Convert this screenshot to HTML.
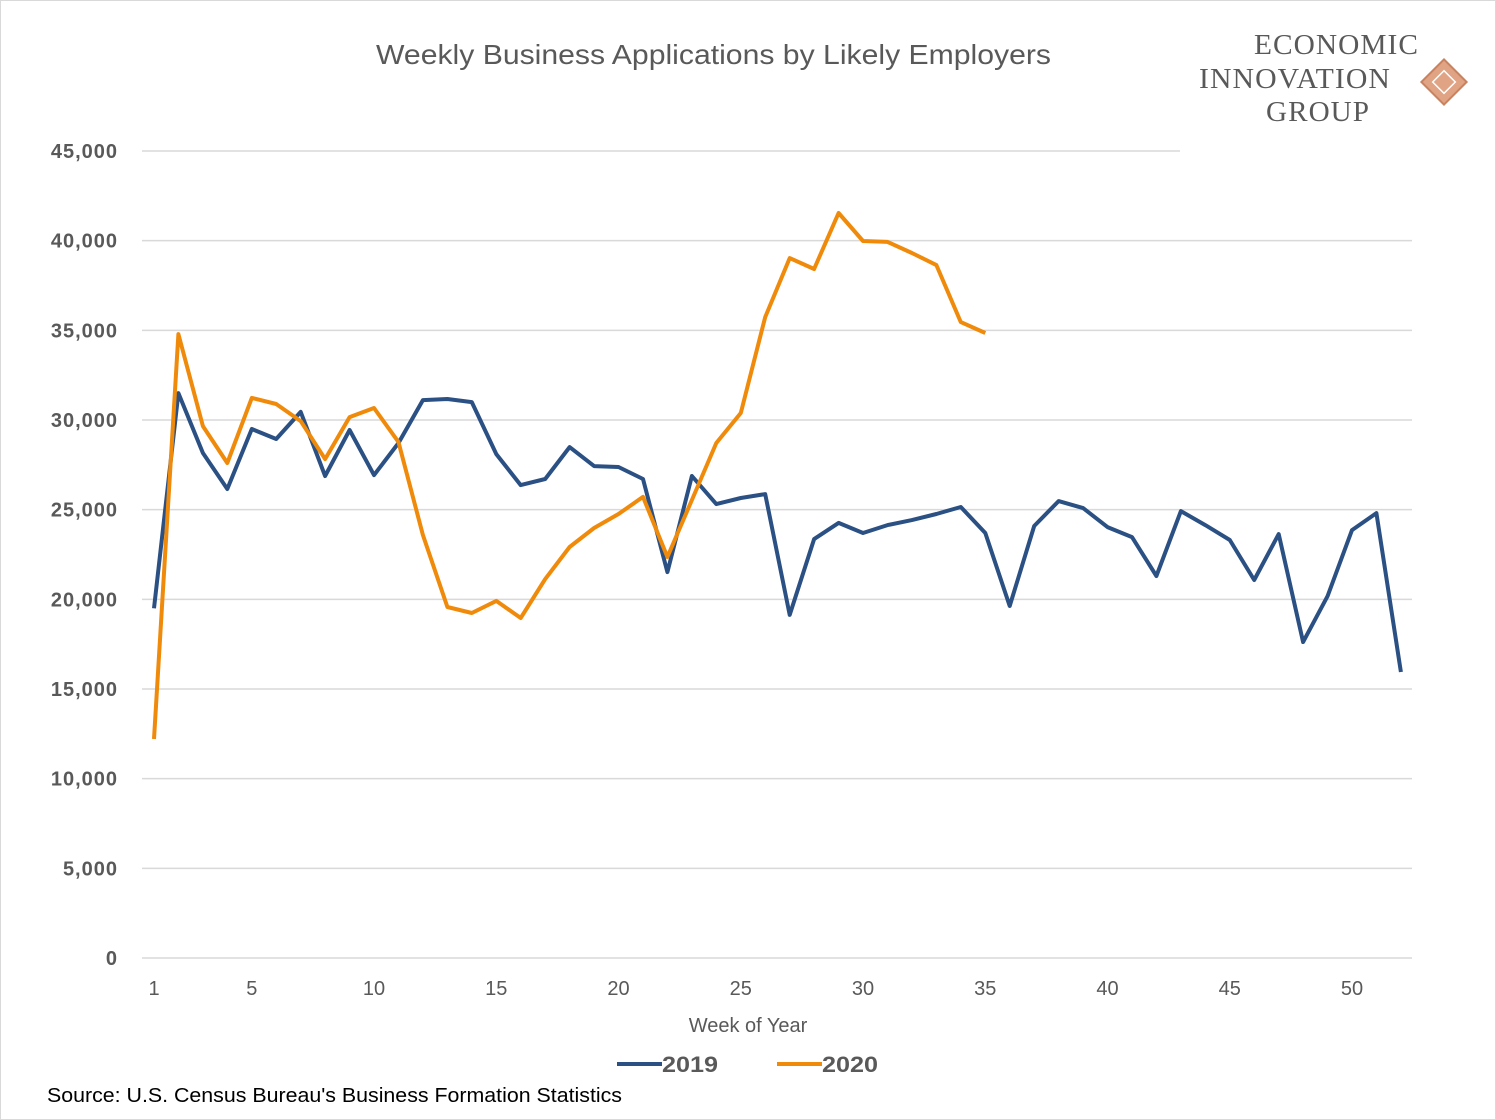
<!DOCTYPE html>
<html><head><meta charset="utf-8"><style>
body{margin:0;background:#fff;width:1496px;height:1120px;overflow:hidden;font-family:"Liberation Sans",sans-serif}
svg{display:block}
</style></head><body>
<svg width="1496" height="1120" id="chart">
<rect x="0.5" y="0.5" width="1495" height="1119" fill="#fff" stroke="#d9d9d9"/>
<text x="376" y="64" textLength="675" lengthAdjust="spacingAndGlyphs" font-size="28" fill="#595959">Weekly Business Applications by Likely Employers</text>
<g font-family="Liberation Serif,serif" fill="#595959" font-size="28" letter-spacing="1">
<text x="1254" y="54" textLength="165" lengthAdjust="spacingAndGlyphs">ECONOMIC</text>
<text x="1199" y="88" textLength="192" lengthAdjust="spacingAndGlyphs">INNOVATION</text>
<text x="1266" y="121" textLength="104" lengthAdjust="spacingAndGlyphs">GROUP</text>
<g transform="translate(1444,82) rotate(45)"><rect x="-16" y="-16" width="32" height="32" fill="#e0a384" stroke="#c8825f" stroke-width="2"/><rect x="-8" y="-8" width="16" height="16" fill="none" stroke="#fff" stroke-width="1.5"/></g>
</g>
<g id="grid"></g><g id="yt"></g><g id="xt"></g><g id="lines"></g>
<text x="748" y="1032" text-anchor="middle" font-size="20" fill="#595959">Week of Year</text>
<g font-size="22" font-weight="bold" fill="#595959">
<g><line x1="617" y1="1064" x2="662" y2="1064" stroke="#2b5083" stroke-width="4"/><text x="662" y="1072" textLength="56" lengthAdjust="spacingAndGlyphs">2019</text></g>
<g><line x1="777" y1="1064" x2="822" y2="1064" stroke="#f08a0a" stroke-width="4"/><text x="822" y="1072" textLength="56" lengthAdjust="spacingAndGlyphs">2020</text></g>
</g>
<text x="47" y="1102" font-size="20" fill="#000" textLength="575" lengthAdjust="spacingAndGlyphs">Source: U.S. Census Bureau's Business Formation Statistics</text>
</svg>
<script>
const weeks2019=[1,2,3,4,5,6,7,8,9,10,11,12,13,14,15,16,17,18,19,20,21,22,23,24,25,26,27,28,29,30,31,32,33,34,35,36,37,38,39,40,41,42,43,44,45,46,47,48,49,50,51,52];
const values2019=[19500,31500,28160,26150,29500,28940,30450,26880,29440,26930,28720,31110,31170,31000,28100,26370,26710,28490,27430,27380,26710,21520,26880,25310,25650,25870,19130,23360,24260,23700,24140,24420,24760,25150,23700,19630,24090,25480,25090,24030,23470,21300,24920,24140,23310,21080,23640,17620,20180,23860,24810,15950];
const values2020=[12210,34790,29660,27600,31230,30890,29940,27820,30160,30670,28770,23590,19570,19240,19910,18960,21130,22920,23980,24760,25710,22360,25540,28720,30390,35740,39030,38420,41540,39980,39930,39310,38640,35460,34850];
const yTicks=[0,5000,10000,15000,20000,25000,30000,35000,40000,45000];
const xTicks=[1,5,10,15,20,25,30,35,40,45,50];
const y=v=>958-v*(807/45000);
const x=w=>154+(w-1)*(1198/49);
const NS="http://www.w3.org/2000/svg";
function mk(t,a,p){const e=document.createElementNS(NS,t);for(const k in a)e.setAttribute(k,a[k]);document.getElementById(p).appendChild(e);return e;}
yTicks.forEach(v=>{
 const g=mk('line',{x1:142,x2:v===45000?1180:1412,y1:y(v),y2:y(v),stroke:'#d9d9d9','stroke-width':1.5},'grid');
 
 
 const lbl=v.toLocaleString('en-US');
 const t=mk('text',{x:118,y:y(v)+7,'text-anchor':'end','font-size':20,'font-weight':'bold',fill:'#595959','letter-spacing':'1'},'yt');
 t.textContent=lbl;
 
 
});
xTicks.forEach(w=>{
 const t=mk('text',{x:x(w),y:995,'text-anchor':'middle','font-size':20,fill:'#595959'},'xt');
 t.textContent=w;
 
 
});
function line(vals,color,name){
 const d=vals.map((v,i)=>(i?'L':'M')+x(i+1).toFixed(1)+','+y(v).toFixed(1)).join('');
 const p=mk('path',{d:d,fill:'none',stroke:color,'stroke-width':4,'stroke-linejoin':'round'},'lines');
 
 
}
line(values2019,'#2b5083','line-2019');
line(values2020,'#f08a0a','line-2020');
</script>
</body></html>
